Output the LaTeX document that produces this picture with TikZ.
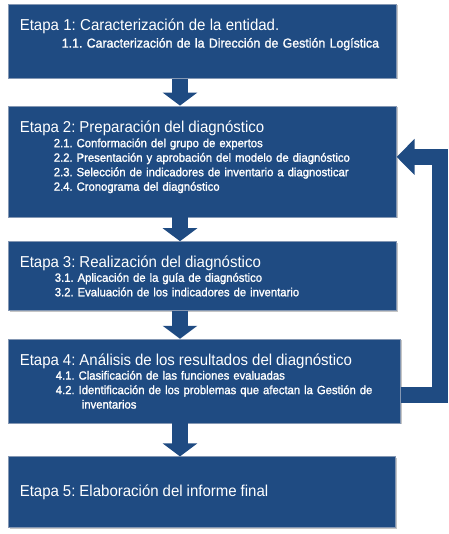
\documentclass[tikz,border=0pt]{standalone}
\usepackage{fontspec}
\setmainfont[FakeStretch=0.95]{Liberation Sans}
\newfontfamily\stepfamily[FakeBold=1.4,FakeStretch=0.95]{Liberation Sans}
\usetikzlibrary{arrows.meta,positioning,shadows}
\definecolor{colStage}{HTML}{1F4B82}
\definecolor{colEdge}{HTML}{8497B3}
\newcommand{\stagetitle}{\rmfamily\fontsize{15.8}{18}\selectfont}
\newcommand{\stepfont}{\stepfamily\fontsize{11.9}{14.5}\selectfont}
\tikzset{
  stage/.style={fill=colStage,draw=colEdge,line width=0.6pt,text=white,align=left,
    text width=365pt,inner xsep=11.5pt,inner ysep=0pt,font=\stepfont,
    drop shadow={shadow xshift=1.2pt,shadow yshift=-1.2pt,fill=black!45,opacity=0.5}},
  flow/.style={-{Triangle[length=13pt,width=34pt]},line width=16pt,draw=colStage},
  back/.style={-{Triangle[length=18pt,width=35pt]},line width=16pt,draw=colStage},
}
\frenchspacing

\begin{document}
\begin{tikzpicture}[x=1pt,y=1pt]
  \useasboundingbox (0,0) rectangle (448,-534);
  \node[stage,minimum height=74pt,anchor=north west,font=\stepfamily\fontsize{13}{16.7}\selectfont] (s1) at (8,-4)
    {{\stagetitle Etapa 1: Caracterización de la entidad.}\\
     \hspace*{42pt}1.1. Caracterización de la Dirección de Gestión Logística\\[-1pt]\mbox{}};
  \node[stage,minimum height=111pt,below right=27pt and 0pt of s1.south west] (s2)
    {{\stagetitle Etapa 2: Preparación del diagnóstico}\\
     \hspace*{34pt}2.1. Conformación del grupo de expertos\\
     \hspace*{34pt}2.2. Presentación y aprobación del modelo de diagnóstico\\
     \hspace*{34pt}2.3. Selección de indicadores de inventario a diagnosticar\\
     \hspace*{34pt}2.4. Cronograma del diagnóstico\\[-3.5pt]\mbox{}};
  \node[stage,minimum height=69pt,below right=24pt and 0pt of s2.south west] (s3)
    {{\stagetitle Etapa 3: Realización del diagnóstico}\\
     \hspace*{35pt}3.1. Aplicación de la guía de diagnóstico\\
     \hspace*{35pt}3.2. Evaluación de los indicadores de inventario};
  \node[stage,minimum height=84pt,text width=369pt,below right=28pt and 0pt of s3.south west] (s4)
    {{\stagetitle Etapa 4: Análisis de los resultados del diagnóstico}\\
     \hspace*{36pt}4.1. Clasificación de las funciones evaluadas\\
     \hspace*{36pt}\makebox[330pt][s]{4.2. Identificación de los problemas que afectan la Gestión de}\\
     \hspace*{62pt}inventarios};
  \node[stage,minimum height=71pt,text width=364pt,below right=33pt and 0pt of s4.south west] (s5)
    {{\stagetitle Etapa 5: Elaboración del informe final}};

  % arrows between the stages
  \coordinate (ax) at (180,0);
  \coordinate (rx) at (440,0);
  \draw[flow] (s1.south -| ax) -- (s2.north -| ax);
  \draw[flow] (s2.south -| ax) -- (s3.north -| ax);
  \draw[flow] (s3.south -| ax) -- (s4.north -| ax);
  \draw[flow] (s4.south -| ax) -- (s5.north -| ax);
  % feedback from stage 4 to stage 2
  \coordinate (fbout) at ([yshift=-13.5pt]s4.east);
  \coordinate (fbin) at ([yshift=4.5pt]s2.east);
  \draw[back] (fbout) -- (fbout -| rx) |- (fbin);
\end{tikzpicture}
\end{document}
